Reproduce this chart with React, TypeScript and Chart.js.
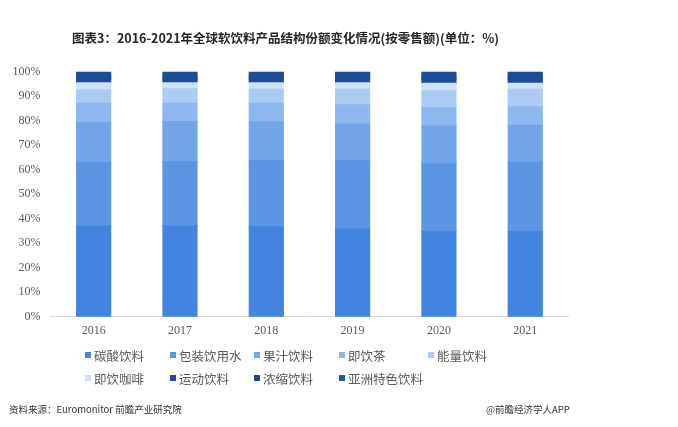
import React, { useEffect, useRef } from "react";
import { Chart, registerables } from "chart.js";

Chart.register(...registerables);

const years = ["2016", "2017", "2018", "2019", "2020", "2021"];
const seriesNames = [
  "碳酸饮料",
  "包装饮用水",
  "果汁饮料",
  "即饮茶",
  "能量饮料",
  "即饮咖啡",
  "运动饮料",
  "浓缩饮料",
  "亚洲特色饮料",
];
const carbonated = [37.0, 37.0, 36.7, 35.8, 34.7, 34.7];
const bottledWater = [25.9, 26.3, 27.0, 27.9, 27.6, 28.3];
const juice = [16.3, 16.3, 15.8, 14.9, 15.5, 15.1];
const rtdTea = [7.9, 7.5, 7.6, 7.9, 7.4, 7.6];
const energy = [5.4, 5.9, 5.7, 6.3, 7.0, 7.1];
const rtdCoffee = [3.0, 2.5, 2.7, 2.7, 3.0, 2.4];
const sports = [1.8, 1.8, 1.8, 1.8, 1.9, 1.9];
const concentrate = [0.8, 0.8, 0.8, 0.8, 0.9, 0.9];
const asian = [1.9, 1.9, 1.9, 1.9, 2.0, 2.0];
const yTicks = [0, 10, 20, 30, 40, 50, 60, 70, 80, 90, 100];

const seriesValues = [carbonated, bottledWater, juice, rtdTea, energy, rtdCoffee, sports, concentrate, asian];
const colors = ["#4185e0", "#5a96e4", "#71a4e9", "#8db8ef", "#abcbf4", "#cde1f9", "#1f4d8e", "#1d4a92", "#2057a6"];
const barColors = ["#4185e0", "#5a96e4", "#71a4e9", "#8db8ef", "#abcbf4", "#cde1f9", "#1e4c94", "#1e4c94", "#1e4c94"];

const legendPos = [
  { x: 85, y: 355 },
  { x: 170, y: 355 },
  { x: 254, y: 355 },
  { x: 339, y: 355 },
  { x: 428, y: 355 },
  { x: 85, y: 378 },
  { x: 170, y: 378 },
  { x: 254, y: 378 },
  { x: 339, y: 378 },
];

export default function App() {
  const ref = useRef<HTMLCanvasElement | null>(null);

  useEffect(() => {
    document.body.style.margin = "0";
    const ctx = ref.current;
    if (!ctx) return;
    const chart = new Chart(ctx, {
      type: "bar",
      data: {
        labels: years,
        datasets: seriesNames.map((name, i) => ({
          label: name,
          data: seriesValues[i],
          backgroundColor: barColors[i],
          borderWidth: 0,
          inflateAmount: 0.6,
          barPercentage: 0.394,
          categoryPercentage: 1,
        })),
      },
      options: {
        animation: false,
        responsive: true,
        maintainAspectRatio: false,
        layout: { padding: { top: 71.7, right: 109.6, left: 0, bottom: 0 } },
        plugins: {
          legend: { display: false },
          title: { display: false },
          tooltip: { enabled: false },
        },
        scales: {
          x: {
            stacked: true,
            grid: { display: false, drawTicks: false },
            border: { display: true, color: "#d9d9d9", width: 1 },
            ticks: {
              color: "#595959",
              font: { family: "'Liberation Serif', 'DejaVu Serif', serif", size: 12 },
              padding: 7,
            },
            afterFit: (s: any) => {
              s.height = 110.3;
            },
          },
          y: {
            stacked: true,
            min: 0,
            max: 100,
            grid: { display: false, drawTicks: false },
            border: { display: false },
            afterBuildTicks: (s: any) => {
              s.ticks = yTicks.map((v) => ({ value: v }));
            },
            ticks: {
              color: "#595959",
              font: { family: "'Liberation Serif', 'DejaVu Serif', serif", size: 12 },
              padding: 10,
              callback: (v: any) => v + "%",
            },
            afterFit: (s: any) => {
              s.width = 50.5;
            },
          },
        },
      },
    });
    return () => chart.destroy();
  }, []);

  return (
    <div style={{ position: "relative", width: 678, height: 427, background: "#fff", overflow: "hidden" }}>
      <canvas ref={ref} style={{ position: "absolute", left: 0, top: 0 }} />
      <div
        style={{
          position: "absolute",
          left: 72,
          top: 29,
          fontFamily: "'Noto Sans CJK SC', sans-serif",
          fontWeight: 700,
          fontSize: 12.5,
          color: "#262626",
          whiteSpace: "nowrap",
          lineHeight: "18px",
        }}
      >
        图表3：2016-2021年全球软饮料产品结构份额变化情况(按零售额)(单位：%)
      </div>
      {seriesNames.map((name, i) => (
        <div
          key={name}
          style={{
            position: "absolute",
            left: legendPos[i].x,
            top: legendPos[i].y - 9,
            height: 18,
            display: "flex",
            alignItems: "center",
            whiteSpace: "nowrap",
            fontFamily: "'Noto Sans CJK SC', sans-serif",
            fontSize: 12.5,
            color: "#595959",
          }}
        >
          <span style={{ display: "inline-block", width: 6, height: 6, background: colors[i], marginRight: 3 }} />
          <span>{name}</span>
        </div>
      ))}
      <div
        style={{
          position: "absolute",
          left: 9,
          top: 402,
          fontFamily: "'Noto Sans CJK SC', sans-serif",
          fontSize: 9.5,
          color: "#333",
          whiteSpace: "nowrap",
          lineHeight: "14px",
        }}
      >
        资料来源：Euromonitor 前瞻产业研究院
      </div>
      <div
        style={{
          position: "absolute",
          left: 486,
          top: 402,
          fontFamily: "'Noto Sans CJK SC', sans-serif",
          fontSize: 9.5,
          color: "#333",
          whiteSpace: "nowrap",
          lineHeight: "14px",
        }}
      >
        @前瞻经济学人APP
      </div>
    </div>
  );
}
